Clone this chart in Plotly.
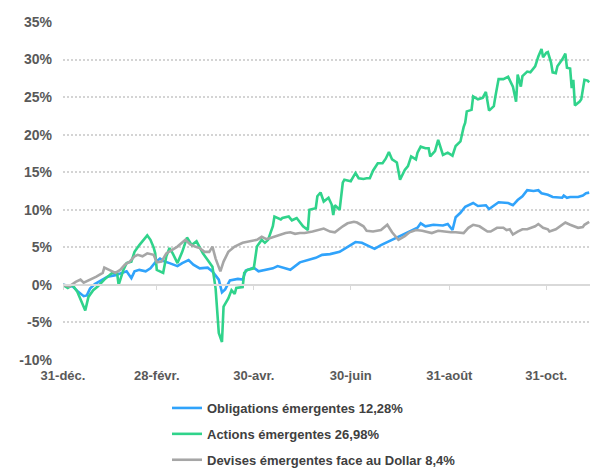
import pandas as pd
import plotly.graph_objects as go

start = pd.Timestamp("2024-12-31")

# days since 31-déc. and cumulative performance (%)
obl_days = [0, 6, 9, 13, 15, 17, 20, 25, 28, 33, 37, 40, 43, 45, 48, 52, 55, 58, 61, 64, 67, 72, 75, 79, 82, 86, 91, 94, 98, 100, 102, 105, 110, 113, 115, 118, 120, 123, 127, 132, 135, 138, 143, 149, 154, 159, 163, 168, 174, 179, 184, 188, 192, 196, 200, 205, 210, 215, 220, 223, 225, 228, 233, 239, 242, 245, 247, 250, 253, 256, 258, 261, 266, 268, 274, 280, 283, 286, 289, 292, 296, 299, 301, 305, 308, 314, 315, 317, 319, 324, 327, 329, 331]
obl_vals = [0, -0.2, -0.8, -1.5, -1.4, -0.5, 0.1, 0.7, 1.1, 1.3, 1.6, 1.8, 0.9, 1.8, 2.0, 1.8, 2.2, 3.0, 3.5, 3.1, 2.9, 2.5, 2.9, 3.3, 2.7, 2.2, 2.3, 1.8, 0.7, -1.0, -0.6, 0.6, 0.8, 0.7, 1.9, 2.2, 2.3, 1.8, 2.0, 2.2, 2.5, 2.3, 2.0, 3.0, 3.3, 3.6, 4.0, 4.1, 4.4, 5.1, 5.7, 5.6, 5.2, 4.8, 5.3, 5.8, 6.3, 6.9, 7.3, 7.6, 8.2, 7.8, 8.0, 7.9, 8.1, 7.3, 9.0, 9.6, 10.4, 10.7, 10.9, 10.5, 10.6, 10.1, 11.0, 10.9, 10.6, 11.3, 11.8, 12.6, 12.5, 12.6, 12.2, 12.0, 11.7, 11.6, 11.9, 11.6, 11.7, 11.7, 11.9, 12.2, 12.28]

act_days = [0, 3, 6, 9, 12, 14, 16, 19, 22, 26, 31, 34, 35, 38, 40, 43, 45, 48, 53, 55, 57, 58, 59, 61, 63, 65, 67, 69, 72, 75, 78, 81, 84, 86, 88, 91, 94, 96, 98, 100, 101, 104, 106, 108, 109, 113, 114, 116, 120, 122, 125, 127, 129, 132, 133, 137, 138, 142, 144, 147, 149, 151, 154, 155, 159, 160, 162, 164, 167, 169, 170, 171, 173, 174, 176, 177, 181, 184, 186, 189, 191, 193, 195, 198, 201, 203, 205, 207, 210, 212, 215, 217, 219, 222, 223, 225, 228, 230, 231, 234, 236, 239, 242, 245, 247, 250, 252, 253, 254, 257, 258, 261, 264, 266, 268, 271, 272, 274, 277, 280, 283, 285, 286, 288, 289, 292, 294, 297, 299, 301, 302, 304, 305, 307, 308, 310, 311, 314, 316, 317, 319, 320, 321, 322, 325, 326, 328, 330, 331]
act_vals = [0, -0.4, 0, -0.9, -2.4, -3.4, -1.6, -0.7, -0.2, 0.7, 1.6, 1.6, 0.0, 2.0, 2.9, 3.1, 4.4, 5.3, 6.6, 6.0, 5.0, 4.2, 2.0, 1.8, 1.6, 3.8, 4.9, 4.2, 2.9, 4.4, 6.3, 5.3, 5.8, 5.0, 4.2, 3.3, 2.4, -0.5, -6.4, -7.6, -2.9, -1.8, -0.7, -1.2, -0.4, -0.3, 1.6, 2.0, 2.2, 5.1, 6.0, 5.6, 6.0, 7.8, 9.1, 8.7, 8.9, 9.1, 8.6, 8.9, 8.4, 7.8, 7.3, 10.0, 10.2, 11.8, 12.3, 11.1, 11.6, 10.7, 9.3, 10.6, 10.2, 10.0, 13.6, 14.0, 13.8, 14.9, 14.2, 14.1, 14.2, 14.2, 15.2, 16.2, 16.2, 16.8, 17.7, 16.7, 16.3, 14.0, 15.3, 15.8, 17.1, 16.7, 17.6, 18.4, 18.2, 18.2, 17.1, 17.8, 19.3, 17.3, 17.6, 17.2, 18.5, 19.1, 21.0, 21.6, 23.1, 23.3, 25.1, 24.7, 24.9, 25.7, 23.2, 23.8, 25.1, 27.4, 27.4, 27.7, 26.4, 24.4, 28.0, 26.4, 27.8, 28.4, 28.3, 29.1, 30.4, 31.4, 30.3, 30.9, 31.0, 29.6, 28.3, 28.2, 29.1, 30.0, 30.8, 28.9, 28.8, 26.2, 27.3, 23.9, 24.4, 24.7, 27.3, 27.2, 26.98]

dev_days = [0, 4, 8, 11, 13, 16, 18, 21, 25, 26, 30, 33, 36, 39, 42, 45, 47, 50, 53, 57, 59, 62, 65, 69, 72, 77, 80, 83, 86, 89, 92, 94, 96, 99, 101, 104, 108, 113, 118, 122, 125, 128, 130, 135, 140, 143, 146, 149, 152, 157, 160, 164, 168, 171, 176, 179, 183, 185, 189, 191, 195, 200, 204, 207, 211, 215, 218, 222, 226, 232, 236, 239, 244, 247, 252, 255, 258, 262, 267, 269, 273, 277, 279, 281, 283, 286, 289, 292, 297, 299, 302, 305, 306, 310, 313, 316, 319, 322, 324, 327, 328, 331]
dev_vals = [0, -0.2, 0.4, 0.7, 0.3, 0.6, 0.7, 1.1, 1.6, 2.3, 1.9, 1.6, 2.0, 2.7, 3.1, 3.8, 4.0, 3.8, 4.2, 4.0, 3.0, 3.1, 4.2, 4.7, 5.1, 6.0, 5.4, 5.1, 4.9, 4.4, 4.4, 5.1, 3.5, 1.8, 3.1, 4.4, 5.1, 5.6, 5.8, 6.0, 6.4, 6.1, 6.2, 6.6, 6.9, 7.0, 6.8, 6.9, 6.9, 7.1, 7.3, 7.5, 7.1, 7.0, 7.8, 8.2, 8.4, 8.3, 7.8, 7.2, 7.1, 7.3, 8.0, 7.0, 6.0, 6.5, 7.0, 7.3, 7.2, 6.9, 7.2, 7.1, 7.0, 7.0, 6.9, 7.6, 8.0, 7.8, 7.1, 7.1, 7.6, 7.6, 7.3, 7.4, 6.7, 7.1, 7.4, 7.4, 7.8, 8.1, 7.6, 7.4, 7.1, 7.4, 7.8, 8.3, 8.0, 7.7, 7.6, 7.7, 8.0, 8.4]

names = ["Obligations émergentes 12,28%", "Actions émergentes 26,98%", "Devises émergentes face au Dollar 8,4%"]
colors = ["#30A3FB", "#30D38B", "#A6A6A6"]

tick_dates = ["2024-12-31", "2025-02-28", "2025-04-30", "2025-06-30", "2025-08-31", "2025-10-31"]
tick_text = ["31-déc.", "28-févr.", "30-avr.", "30-juin", "31-août", "31-oct."]
y_ticks = [-10, -5, 0, 5, 10, 15, 20, 25, 30, 35]
y_text = [f"{v}%" for v in y_ticks]

def to_dates(days):
    return [start + pd.Timedelta(days=d) for d in days]

FONT = "Liberation Sans, Arial, sans-serif"

fig = go.Figure()
for i, (d, v) in enumerate([(obl_days, obl_vals), (act_days, act_vals), (dev_days, dev_vals)]):
    fig.add_trace(go.Scatter(
        x=to_dates(d), y=v, mode="lines", name=names[i],
        line=dict(color=colors[i], width=2.6), legendgroup=f"g{i}",
    ))

x_range = [start, start + pd.Timedelta(days=331.5)]

fig.update_layout(
    template="none",
    width=597, height=468,
    margin=dict(l=63, r=7, t=22, b=108, autoexpand=False),
    plot_bgcolor="white", paper_bgcolor="white",
    showlegend=True,
    legend=dict(
        x=167 / 597, xref="container", y=1 - 393 / 468, yref="container",
        xanchor="left", yanchor="top",
        font=dict(family=FONT, size=13, color="#404040", weight="bold"),
        tracegroupgap=6, traceorder="grouped",
        bgcolor="rgba(0,0,0,0)", borderwidth=0,
    ),
    xaxis=dict(
        type="date", range=x_range, automargin=False,
        tickvals=tick_dates, ticktext=tick_text,
        showgrid=False, showline=False, zeroline=False, ticks="",
        tickfont=dict(family=FONT, size=13, color="#595959", weight="bold"),
        ticklabelstandoff=6,
    ),
    xaxis2=dict(
        type="date", range=x_range, overlaying="x", anchor="free", automargin=False,
        position=10 / 45, side="bottom",
        tickvals=tick_dates, showticklabels=False,
        showgrid=False, zeroline=False,
        showline=True, linecolor="#D9D9D9", linewidth=1.5,
        ticks="outside", ticklen=4, tickcolor="#D9D9D9", tickwidth=1,
    ),
    yaxis=dict(
        range=[-10, 35], tickvals=y_ticks, ticktext=y_text, automargin=False,
        showgrid=True, gridcolor="#D4D4D4", gridwidth=2, griddash="2px,2px",
        zeroline=False, showline=False, ticks="",
        tickfont=dict(family=FONT, size=14, color="#595959", weight="bold"),
        ticklabelstandoff=10,
    ),
)
# invisible trace so xaxis2 is rendered
fig.add_trace(go.Scatter(x=[start], y=[None], xaxis="x2", showlegend=False, hoverinfo="skip"))

fig.write_html(
    "out.html",
    config={"displayModeBar": False},
    post_script="document.body.style.margin='0';document.body.style.overflow='hidden';",
)
